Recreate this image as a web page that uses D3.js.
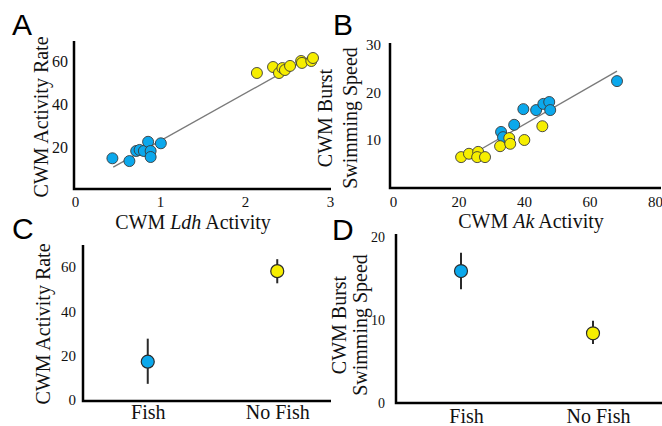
<!DOCTYPE html>
<html>
<head>
<meta charset="utf-8">
<script src="https://cdn.jsdelivr.net/npm/d3@7"></script>
<style>
  body { margin: 0; background: #fff; }
  svg { display: block; }
  text { font-family: "Liberation Serif", "Times New Roman", serif; fill: #111; }
  .panel-label { font-family: "Liberation Sans", Arial, sans-serif; font-size: 30px; fill: #000; }
</style>
</head>
<body>
<svg id="fig" width="662" height="426"></svg>
<script>
// panel A: Ldh activity vs activity rate
const ldhFish = [0.44, 0.64, 0.72, 0.76, 0.81, 0.86, 0.89, 0.89, 1.01];
const rateFish = [14.8, 13.5, 18.2, 18.7, 18.2, 22.5, 18.2, 15.4, 21.8];
const ldhNoFish = [2.14, 2.33, 2.40, 2.44, 2.47, 2.53, 2.66, 2.67, 2.78, 2.80];
const rateNoFish = [54.6, 57.4, 54.6, 56.9, 56.0, 57.9, 60.2, 59.3, 60.2, 61.6];
const fitA = [[0.45, 10.7], [2.8, 62.8]];

// panel B: Ak activity vs burst swimming speed
const akFish = [68.4, 39.8, 43.7, 45.9, 47.7, 48.0, 37.0, 33.0, 33.6];
const speedFish = [22.4, 16.5, 16.3, 17.6, 18.0, 16.3, 13.2, 11.7, 10.6];
const akNoFish = [20.8, 23.2, 26.0, 25.7, 28.1, 32.7, 35.5, 35.8, 40.1, 45.6];
const speedNoFish = [6.4, 7.1, 7.5, 6.4, 6.4, 8.7, 10.4, 9.2, 10.0, 12.9];
const fitB = [[21.1, 5.8], [68.4, 24.5]];

// panels C and D: group means with error bars
const groups = ["Fish", "No Fish"];
const rateMean = [17.3, 58.2];
const rateLow = [7.3, 52.7];
const rateHigh = [27.7, 63.6];
const speedMean = [15.9, 8.4];
const speedLow = [13.7, 7.1];
const speedHigh = [18.1, 9.9];

const blue = "#0ba8ec", yellow = "#f6ee00";
const serif = '"Liberation Serif", "Times New Roman", serif';
const svg = d3.select("#fig");

function frame(x0, x1, y0, y1) {
    svg.append("path")
        .attr("d", `M${x0},${y0}V${y1}H${x1}`)
        .attr("fill", "none")
        .attr("stroke", "#000")
        .attr("stroke-width", 2.5);
}

function yAxis(y, xPos, ticks, pad, size) {
    const g = svg.append("g")
        .attr("transform", `translate(${xPos},0)`)
        .call(d3.axisLeft(y).tickValues(ticks).tickSize(0).tickPadding(pad).tickFormat(d3.format("d")))
        .attr("font-family", serif)
        .attr("font-size", size);
    g.select(".domain").remove();
}

function xAxis(x, yPos, ticks, pad, size) {
    const ax = d3.axisBottom(x).tickSize(0).tickPadding(pad);
    if (ticks) ax.tickValues(ticks).tickFormat(d3.format("d"));
    const g = svg.append("g")
        .attr("transform", `translate(0,${yPos})`)
        .call(ax)
        .attr("font-family", serif)
        .attr("font-size", size);
    g.select(".domain").remove();
    return g;
}

function title(lines, cx, cy, rotate, size) {
    const t = svg.append("text")
        .attr("text-anchor", "middle")
        .attr("transform", rotate ? `translate(${cx},${cy}) rotate(-90)` : `translate(${cx},${cy})`)
        .style("font-size", size + "px");
    lines.forEach(l => {
        const ts = t.append("tspan").attr("x", 0).attr("y", l.dy || 0);
        l.parts.forEach(p => ts.append("tspan").style("font-style", p.it ? "italic" : null).text(p.t));
    });
}

function scatter(x, y, xs, ys, color) {
    svg.append("g").selectAll("circle")
        .data(xs.map((d, i) => [d, ys[i]]))
        .join("circle")
        .attr("cx", d => x(d[0]))
        .attr("cy", d => y(d[1]))
        .attr("r", 5.5)
        .attr("fill", color)
        .attr("stroke", "#3a3a3a")
        .attr("stroke-width", 0.9);
}

function fitLine(x, y, pts) {
    svg.append("path")
        .attr("d", d3.line().x(d => x(d[0])).y(d => y(d[1]))(pts))
        .attr("stroke", "#7a7a7a")
        .attr("stroke-width", 1.3)
        .attr("fill", "none");
}

function meanPlot(x, y, means, lows, highs) {
    const g = svg.append("g");
    g.selectAll("line")
        .data(groups)
        .join("line")
        .attr("x1", d => x(d)).attr("x2", d => x(d))
        .attr("y1", (d, i) => y(lows[i]))
        .attr("y2", (d, i) => y(highs[i]))
        .attr("stroke", "#2a2a2a")
        .attr("stroke-width", 2);
    g.selectAll("circle")
        .data(groups)
        .join("circle")
        .attr("cx", d => x(d))
        .attr("cy", (d, i) => y(means[i]))
        .attr("r", 6.5)
        .attr("fill", (d, i) => i === 0 ? blue : yellow)
        .attr("stroke", "#2a2a2a")
        .attr("stroke-width", 1.2);
}

// ---- A ----
const xA = d3.scaleLinear().domain([0, 3]).range([75, 330]);
const yA = d3.scaleLinear().domain([0, 70]).range([190, 40]);
frame(74, 331, 41, 189);
yAxis(yA, 74, [20, 40, 60], 6, 16);
xAxis(xA, 189, [0, 1, 2, 3], 7, 15);
fitLine(xA, yA, fitA);
scatter(xA, yA, ldhFish, rateFish, blue);
scatter(xA, yA, ldhNoFish, rateNoFish, yellow);
title([{ parts: [{ t: "CWM Activity Rate" }] }], 48, 117, true, 20);
title([{ parts: [{ t: "CWM " }, { t: "Ldh", it: true }, { t: " Activity" }] }], 193, 229, false, 20);

// ---- B ----
const xB = d3.scaleLinear().domain([0, 80]).range([393, 655]);
const yB = d3.scaleLinear().domain([0, 30]).range([187.5, 45]);
frame(390, 661, 43, 188);
yAxis(yB, 390, [10, 20, 30], 9, 15);
xAxis(xB, 188, [0, 20, 40, 60, 80], 8, 15);
fitLine(xB, yB, fitB);
scatter(xB, yB, akFish, speedFish, blue);
scatter(xB, yB, akNoFish, speedNoFish, yellow);
title([{ parts: [{ t: "CWM Burst" }] }, { dy: 25, parts: [{ t: "Swimming Speed" }] }], 332, 118, true, 20);
title([{ parts: [{ t: "CWM " }, { t: "Ak", it: true }, { t: " Activity" }] }], 531, 228, false, 20);

// ---- C ----
const xC = d3.scalePoint().domain(groups).range([83, 342]).padding(0.5);
const yC = d3.scaleLinear().domain([0, 70]).range([400, 245]);
frame(83, 331, 245, 401);
yAxis(yC, 83, [0, 20, 40, 60], 7, 15);
xAxis(xC, 401, null, 4, 20);
meanPlot(xC, yC, rateMean, rateLow, rateHigh);
title([{ parts: [{ t: "CWM Activity Rate" }] }], 50, 324, true, 20);

// ---- D ----
const xD = d3.scalePoint().domain(groups).range([395, 659]).padding(0.5);
const yD = d3.scaleLinear().domain([0, 20]).range([403, 237]);
frame(396, 662, 234, 403);
yAxis(yD, 396, [0, 10, 20], 11, 14);
xAxis(xD, 403, null, 6, 20).selectAll("text").attr("dx", 5);
meanPlot(xD, yD, speedMean, speedLow, speedHigh);
title([{ parts: [{ t: "CWM Burst" }] }, { dy: 21, parts: [{ t: "Swimming Speed" }] }], 346, 325, true, 20);

// panel letters
[["A", 12, 35], ["B", 333, 35], ["C", 12, 239], ["D", 332, 240]].forEach(([t, x, y]) => {
    svg.append("text").attr("class", "panel-label").attr("x", x).attr("y", y).text(t);
});
</script>
</body>
</html>
